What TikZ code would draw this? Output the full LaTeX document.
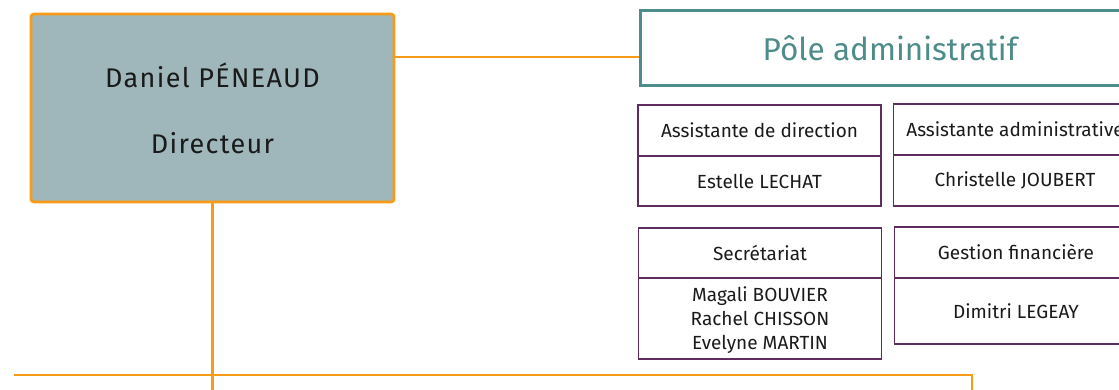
\documentclass[tikz,border=0pt]{standalone}
\usepackage{fontspec}
\setmainfont{Fira Sans}
\usepackage{tikz}
\usetikzlibrary{positioning}

\definecolor{orgline}{HTML}{F89B17}
\definecolor{dirfill}{HTML}{9FB7BB}
\definecolor{poleteal}{HTML}{4E8C8A}
\definecolor{unitpurple}{HTML}{5E2D5E}
\definecolor{txtdark}{HTML}{1A1A1A}

\tikzset{
  link/.style={orgline, line width=2.2pt},
  dirbox/.style={draw=orgline, line width=2.8pt, fill=dirfill, rounded corners=3pt,
    minimum width=363pt, minimum height=188pt, align=center, text=txtdark,
    font=\fontsize{27}{66}\selectfont\addfontfeature{LetterSpace=5}},
  polebox/.style={draw=poleteal, line width=3pt, minimum width=500pt, minimum height=75pt,
    text=poleteal, font=\fontsize{31.5}{36}\selectfont},
  unithead/.style={draw=unitpurple, line width=1.3pt, outer sep=0pt, minimum width=243pt,
    minimum height=51pt, text=txtdark, align=center, font=\fontsize{19}{24}\selectfont},
  unitbody/.style={unithead}
}

\begin{document}
\begin{tikzpicture}[x=1pt, y=-1pt]
  \useasboundingbox (0,0) rectangle (1119,390);
  \clip (0,0) rectangle (1119,390);

  % director and admin pole
  \node[dirbox] (director) at (212.5,108) {Daniel PÉNEAUD\\Directeur};
  \node[polebox] (pole) at (890,48.5) {Pôle administratif};

  % units of the pole
  \node[unithead] (asdir) at (759.5,130.5) {Assistante de direction};
  \node[unitbody, below=0pt of asdir, minimum height=50pt] (asdirname) {Estelle LECHAT};
  \node[unithead] (asadm) at (1015,129.5) {Assistante administrative};
  \node[unitbody, below=0pt of asadm] (asadmname) {Christelle JOUBERT};
  \node[unithead, minimum height=50pt] (secr) at (760,253) {Secrétariat};
  \node[unitbody, below=0pt of secr, minimum height=81pt, text depth=-5pt] (secrname)
    {Magali BOUVIER\\Rachel CHISSON\\Evelyne MARTIN};
  \node[unithead] (finance) at (1016,252.5) {Gestion financière};
  \node[unitbody, below=0pt of finance, minimum height=66pt] (financename) {Dimitri LEGEAY};

  % connectors
  \coordinate (polelink) at (0,57);
  \coordinate (busleft) at (14,375);
  \coordinate (busright) at (972,375);
  \coordinate (busdown) at (972,392);
  \coordinate (dirdown) at (212.5,392);
  \draw[link] (director.east |- polelink) -- (pole.west |- polelink);
  \draw[link] (director.south) -- (dirdown);
  \draw[link] (busleft) -- (busright) -- (busdown);
\end{tikzpicture}
\end{document}
